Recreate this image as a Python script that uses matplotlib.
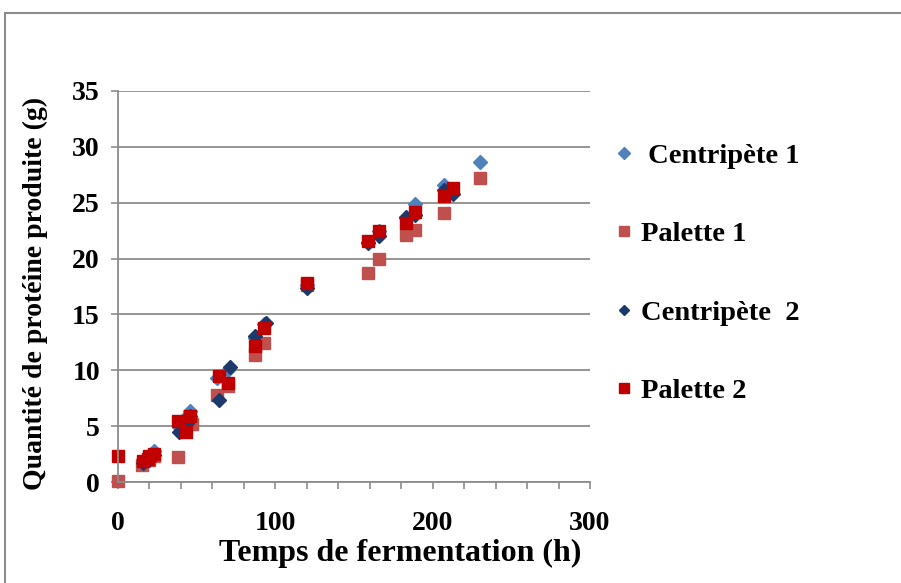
import numpy as np
import matplotlib
matplotlib.use("Agg")
import matplotlib.pyplot as plt
from matplotlib.ticker import MultipleLocator

# data (time in h, protein in g)
centri1_t = [16, 20, 23, 39, 43, 46, 63, 70, 87, 93, 120, 159, 166, 183, 189, 207, 230]
centri1_q = [1.9, 2.3, 2.8, 4.9, 5.8, 6.4, 9.3, 10.0, 12.9, 14.1, 17.6, 21.5, 22.5, 23.6, 24.9, 26.6, 28.6]

palette1_t = [0, 15, 20, 23, 38, 43, 47, 63, 70, 87, 93, 120, 159, 166, 183, 189, 207, 230]
palette1_q = [0.1, 1.5, 2.0, 2.3, 2.2, 5.0, 5.2, 7.8, 8.6, 11.4, 12.4, 17.6, 18.7, 20.0, 22.1, 22.6, 24.1, 27.2]

centri2_t = [16, 20, 23, 39, 44, 46, 64, 71, 87, 94, 120, 159, 166, 183, 189, 207, 213]
centri2_q = [1.7, 2.0, 2.4, 4.5, 5.3, 5.9, 7.3, 10.3, 13.1, 14.2, 17.4, 21.4, 22.0, 23.7, 23.9, 26.1, 25.8]

palette2_t = [0, 16, 19, 20, 23, 38, 43, 46, 64, 70, 87, 93, 120, 159, 166, 183, 189, 207, 213]
palette2_q = [2.3, 1.9, 2.1, 2.3, 2.5, 5.5, 4.5, 5.9, 9.5, 8.9, 12.2, 13.8, 17.8, 21.6, 22.5, 23.2, 24.2, 25.6, 26.3]

plt.rcParams['font.family'] = ['Liberation Serif', 'DejaVu Serif']
plt.rcParams['font.weight'] = 'bold'
plt.rcParams['axes.labelweight'] = 'bold'

fig = plt.figure(figsize=(9.01, 5.83), dpi=100)
ax = fig.add_axes([118/901, 101/583, 472/901, 391/583])

# outer chart frame (only top and left edges are visible)
fig.patches.append(plt.Rectangle((5/901, -0.1), 1.1, (583-13)/583 + 0.1,
                                 transform=fig.transFigure, fill=False,
                                 edgecolor='#8c8c8c', linewidth=1.5))

ax.plot(centri1_t, centri1_q, 'D', color='#4F81BD', ms=7.5, mec='#4F81BD', label=' Centripète 1')
ax.plot(palette1_t, palette1_q, 's', color='#C0504D', ms=9, mec='#C0504D', label='Palette 1')
ax.plot(centri2_t, centri2_q, 'D', color='#1B3A6B', ms=7, mec='#1B3A6B', label='Centripète  2')
ax.plot(palette2_t, palette2_q, 's', color='#C00000', ms=9, mec='#C00000', label='Palette 2')

ax.set_xlim(0, 300)
ax.set_ylim(0, 35)
ax.xaxis.set_major_locator(MultipleLocator(100))
ax.xaxis.set_minor_locator(MultipleLocator(20))
ax.yaxis.set_major_locator(MultipleLocator(5))
ax.grid(axis='y', color='#8c8c8c', linewidth=1.3)
ax.set_axisbelow(True)
for s in ['top', 'right']:
    ax.spines[s].set_visible(False)
for s in ['left', 'bottom']:
    ax.spines[s].set_color('#8c8c8c')
    ax.spines[s].set_linewidth(1.3)
ax.tick_params(axis='x', which='both', direction='out', length=5, color='#8c8c8c', width=1.2)
ax.tick_params(axis='x', which='major', pad=16, labelsize=20)
ax.tick_params(axis='y', direction='out', length=5, color='#8c8c8c', width=1.2, pad=8, labelsize=20)
for line in ax.lines:
    line.set_clip_on(False)

ax.set_xlabel('Temps de fermentation (h)', fontsize=23)
ax.xaxis.set_label_coords(0.597, -0.146)
ax.set_ylabel('Quantité de protéine produite (g)', fontsize=20)
ax.yaxis.set_label_coords(-0.148, 0.483)

ax.legend(loc='upper left', bbox_to_anchor=(583/901, 1 - 117/583), bbox_transform=fig.transFigure,
          frameon=False, fontsize=20.5, labelspacing=1.85, handletextpad=0.02, handlelength=1.1,
          markerscale=0.8)

fig.savefig('out.png', dpi=100)
